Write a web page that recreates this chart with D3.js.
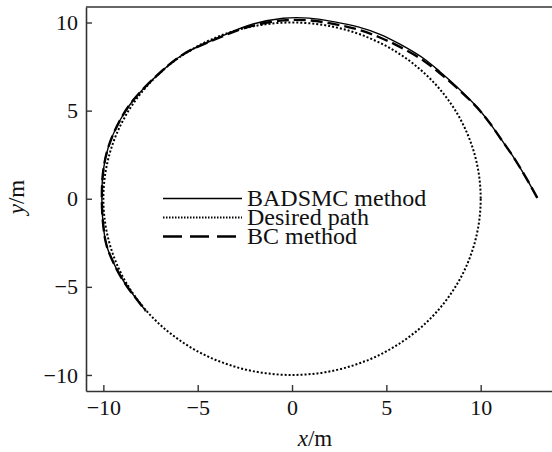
<!DOCTYPE html>
<html>
<head>
<meta charset="utf-8">
<script src="https://cdn.jsdelivr.net/npm/d3@7"></script>
<style>
  html, body { margin: 0; padding: 0; background: #fff; }
  svg { display: block; }
  text { font-family: "Liberation Serif", "Times New Roman", serif; fill: #111; }
</style>
</head>
<body>
<div id="chart"></div>
<script>
// trajectory (m)
const badsmcX = [13.0, 12.4, 11.73, 11.1, 10.49, 9.79, 8.73, 7.84, 6.96, 5.72, 4.66, 3.5, 2.19, 0.9, -0.46, -2.23, -3.99, -5.76, -7.0, -8.41, -9.11, -9.73, -10.0, -10.08, -10.0, -9.82, -9.29, -8.76, -8.23, -7.75];
const badsmcY = [0.05, 1.2, 2.38, 3.35, 4.28, 5.22, 6.36, 7.21, 7.97, 8.77, 9.33, 9.75, 10.05, 10.25, 10.24, 9.86, 9.1, 8.2, 7.15, 5.6, 4.47, 2.95, 1.63, 0.02, -1.56, -2.68, -4.01, -4.95, -5.71, -6.37];
const bcX = [13.0, 12.4, 11.73, 11.1, 10.49, 9.79, 8.73, 7.84, 6.96, 5.72, 4.66, 3.5, 2.19, 0.9, -0.46, -2.23, -3.99, -5.76, -7.0, -8.41, -9.11, -9.73, -10.0, -10.08, -10.0, -9.82, -9.29, -8.76, -8.23, -7.75];
const bcY = [0.05, 1.2, 2.38, 3.35, 4.28, 5.2, 6.3, 7.12, 7.85, 8.62, 9.15, 9.6, 9.92, 10.12, 10.12, 9.78, 9.08, 8.2, 7.15, 5.6, 4.47, 2.95, 1.63, 0.02, -1.56, -2.68, -4.01, -4.95, -5.71, -6.37];
// desired path: circle about the origin
const desiredCenter = [0, 0];
const desiredRadius = 10;

const xTicks = [-10, -5, 0, 5, 10];
const yTicks = [-10, -5, 0, 5, 10];
const legendLabels = ['BADSMC method', 'Desired path', 'BC method'];

const width = 552, height = 452;
const margin = { left: 86, right: 552, top: 7, bottom: 391 };

const svg = d3.select('#chart').append('svg')
    .attr('width', width)
    .attr('height', height);

const x = d3.scaleLinear().domain([-10.92, 13.78]).range([margin.left, margin.right]);
const y = d3.scaleLinear().domain([-10.91, 10.88]).range([margin.bottom, margin.top]);

const line = d3.line()
    .x(d => x(d[0]))
    .y(d => y(d[1]))
    .curve(d3.curveCatmullRom);

// desired path (dotted)
svg.append('ellipse')
    .attr('cx', x(desiredCenter[0]))
    .attr('cy', y(desiredCenter[1]))
    .attr('rx', x(desiredRadius) - x(0))
    .attr('ry', y(0) - y(desiredRadius))
    .attr('fill', 'none')
    .attr('stroke', '#000')
    .attr('stroke-width', 2)
    .attr('stroke-dasharray', '2,2');

// BC method (dashed)
svg.append('path')
    .datum(d3.zip(bcX, bcY))
    .attr('d', line)
    .attr('fill', 'none')
    .attr('stroke', '#000')
    .attr('stroke-width', 2.4)
    .attr('stroke-dasharray', '12,5');

// BADSMC method (solid)
svg.append('path')
    .datum(d3.zip(badsmcX, badsmcY))
    .attr('d', line)
    .attr('fill', 'none')
    .attr('stroke', '#000')
    .attr('stroke-width', 1.4);

// axes
const xAxis = svg.append('g')
    .attr('transform', `translate(0,${margin.bottom})`)
    .call(d3.axisBottom(x).tickValues(xTicks).tickSizeInner(-6).tickSizeOuter(0).tickPadding(8.5));
const yAxis = svg.append('g')
    .attr('transform', `translate(${margin.left},0)`)
    .call(d3.axisLeft(y).tickValues(yTicks).tickSizeInner(-6).tickSizeOuter(0).tickPadding(8));

[xAxis, yAxis].forEach(g => {
    g.select('.domain').attr('stroke', '#333').attr('stroke-width', 1.6);
    g.selectAll('.tick line').attr('stroke', '#333').attr('stroke-width', 1.4);
    g.selectAll('.tick text')
        .style('font-family', '"Liberation Serif", serif')
        .style('font-size', '22px')
        .attr('fill', '#111');
});

// top frame line
svg.append('line')
    .attr('x1', margin.left).attr('x2', margin.right)
    .attr('y1', margin.top).attr('y2', margin.top)
    .attr('stroke', '#333')
    .attr('stroke-width', 1.6);

// axis titles
const xLabel = svg.append('text')
    .attr('x', 315).attr('y', 446)
    .attr('text-anchor', 'middle')
    .style('font-size', '23px');
xLabel.append('tspan').style('font-style', 'italic').text('x');
xLabel.append('tspan').text('/m');

const yLabel = svg.append('text')
    .attr('transform', 'translate(24,197) rotate(-90)')
    .attr('text-anchor', 'middle')
    .style('font-size', '23px');
yLabel.append('tspan').style('font-style', 'italic').text('y');
yLabel.append('tspan').text('/m');

// legend
const legendStyles = [
    { width: 1.4, dash: null },
    { width: 1.8, dash: '1.5,1.5' },
    { width: 2.4, dash: '19,8' }
];
const legendRows = [198.5, 217.5, 236.5];
const legend = svg.append('g');
legendLabels.forEach((label, i) => {
    legend.append('line')
        .attr('x1', 163).attr('x2', 242)
        .attr('y1', legendRows[i]).attr('y2', legendRows[i])
        .attr('stroke', '#000')
        .attr('stroke-width', legendStyles[i].width)
        .attr('stroke-dasharray', legendStyles[i].dash);
    legend.append('text')
        .attr('x', 247)
        .attr('y', legendRows[i])
        .attr('dy', '0.33em')
        .style('font-size', '24px')
        .text(label);
});
</script>
</body>
</html>
